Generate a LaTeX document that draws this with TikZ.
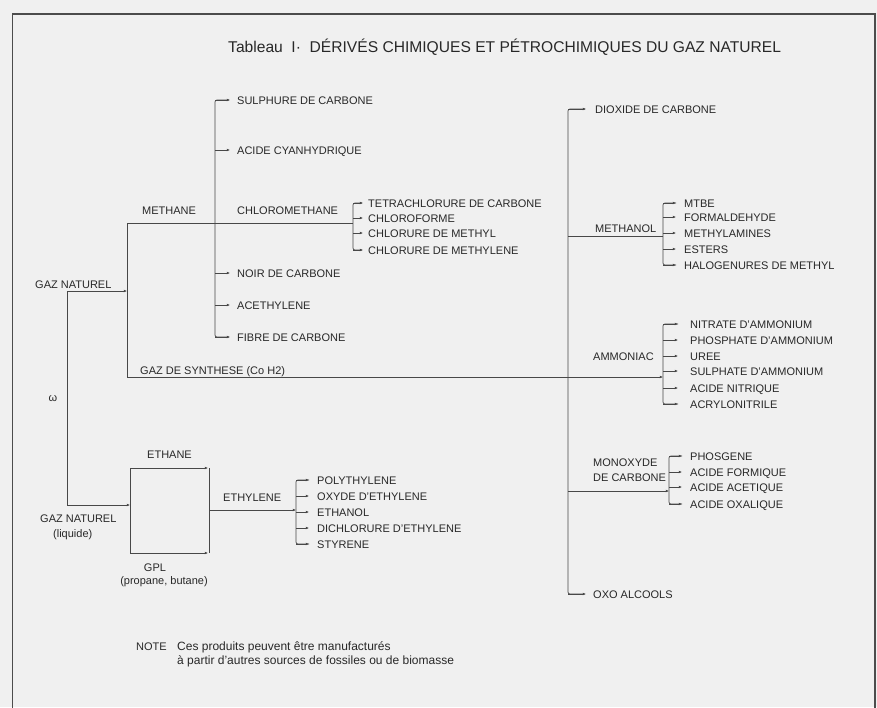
\documentclass[tikz,border=0pt]{standalone}
\usepackage{fontspec}
\setmainfont{Liberation Sans}
\usetikzlibrary{arrows.meta}
\definecolor{bgc}{RGB}{240,240,240}
\definecolor{ink}{RGB}{40,40,40}
\begin{document}
\begin{tikzpicture}[x=1pt,y=-1pt,
  lbl/.style={anchor=west,inner sep=0pt,text height=8pt,text depth=0pt,font=\fontsize{11}{12}\selectfont,text=ink},
  ctr/.style={lbl,anchor=center},
  ln/.style={draw=ink!85,line width=0.7pt},
  tk/.style={ln,-{Latex[length=3.2pt,width=2.8pt]}},
  notefont/.style={font=\fontsize{12}{13}\selectfont},
]
\useasboundingbox (0,0) rectangle (877,707);
\fill[bgc] (0,0) rectangle (877,707);
\begin{scope}
\clip (0,0) rectangle (877,707);
\draw[line width=1.6pt,draw=black!70] (12.5,14) rectangle (875,730);
\end{scope}

% title
\node[anchor=west,inner sep=0pt,font=\fontsize{15.6}{17}\selectfont,text=ink] (title) at (228,47)
  {Tableau\ \ I·\ \ DÉRIVÉS CHIMIQUES ET PÉTROCHIMIQUES DU GAZ NATUREL};

% ---------- left part ----------
\node[lbl] (gn) at (35,284) {GAZ NATUREL};
\node[lbl] (meth) at (142,210) {METHANE};
\node[lbl] (syn) at (140,370) {GAZ DE SYNTHESE (Co H2)};
\node[ctr] (omega) at (53,397) {ω};

\node[lbl] (sulf) at (237,100) {SULPHURE DE CARBONE};
\node[lbl] (cyan) at (237,150) {ACIDE CYANHYDRIQUE};
\node[lbl] (chlm) at (237,210) {CHLOROMETHANE};
\node[lbl] (noir) at (237,273) {NOIR DE CARBONE};
\node[lbl] (acet) at (237,305) {ACETHYLENE};
\node[lbl] (fibr) at (237,337) {FIBRE DE CARBONE};

\node[lbl] (tetra) at (368,203) {TETRACHLORURE DE CARBONE};
\node[lbl] (chlf)  at (368,218) {CHLOROFORME};
\node[lbl] (chme)  at (368,233) {CHLORURE DE METHYL};
\node[lbl] (chml)  at (368,250) {CHLORURE DE METHYLENE};

\coordinate (g1) at (67,291);
\coordinate (g2) at (127,291);
\coordinate (g3) at (67,505);
\coordinate (mj) at (127,223);
\coordinate (bm) at (215,223);
\coordinate (cb) at (353,223);
\coordinate (sj) at (127,377);
\coordinate (ab) at (663,377);

\draw[tk] (g1) -- (g2);
\draw[ln] (g1) -- (g3);
\draw[ln] (mj) -- (sj);
\draw[ln] (mj) -- (cb);
\draw[tk] (sj) -- (ab);

\draw[ln,rounded corners=2pt] ([xshift=-8pt]sulf.west) -- (sulf.west -| bm) -- (fibr.west -| bm) -- ([xshift=-8pt]fibr.west);
\foreach \n in {sulf,cyan,noir,acet,fibr}
  \draw[tk] (\n.west -| bm) -- ([xshift=-7pt]\n.west);

\draw[ln,rounded corners=2pt] ([xshift=-6pt]tetra.west) -- (tetra.west -| cb) -- (chml.west -| cb) -- ([xshift=-6pt]chml.west);
\foreach \n in {tetra,chlf,chme,chml}
  \draw[tk] (\n.west -| cb) -- ([xshift=-5pt]\n.west);

% ---------- lower left ----------
\node[lbl] (gnl) at (40,518) {GAZ NATUREL};
\node[lbl] (liq) at (53,533) {(liquide)};
\node[lbl] (ethane) at (147,454) {ETHANE};
\node[ctr] (gpl) at (155,567) {GPL};
\node[ctr] (propb) at (164,580) {(propane, butane)};
\node[lbl] (ethy) at (223,497) {ETHYLENE};

\coordinate (bl) at (130,505);
\coordinate (btl) at (130,468);
\coordinate (btr) at (208,468);
\coordinate (bbl) at (130,553);
\coordinate (bbr) at (208,553);
\coordinate (rt) at (209,468);
\coordinate (rb) at (209,553);
\coordinate (er) at (209,510);
\coordinate (eb) at (296,510);

\draw[tk] (g3) -- (bl);
\draw[tk] (bl) -- (btl) -- (btr);
\draw[tk] (bl) -- (bbl) -- (bbr);
\draw[ln] (rt) -- (rb);
\draw[tk] (er) -- (eb);

\node[lbl] (poly) at (317,480) {POLYTHYLENE};
\node[lbl] (oxyd) at (317,496) {OXYDE D'ETHYLENE};
\node[lbl] (ethl) at (317,512) {ETHANOL};
\node[lbl] (dich) at (317,528) {DICHLORURE D'ETHYLENE};
\node[lbl] (styr) at (317,544) {STYRENE};

\draw[ln,rounded corners=2pt] ([xshift=-8pt]poly.west) -- (poly.west -| eb) -- (styr.west -| eb) -- ([xshift=-8pt]styr.west);
\foreach \n in {poly,oxyd,ethl,dich,styr}
  \draw[tk] (\n.west -| eb) -- ([xshift=-8pt]\n.west);

% ---------- right part ----------
\node[lbl] (diox) at (595,109) {DIOXIDE DE CARBONE};
\node[lbl] (oxo) at (593,594) {OXO ALCOOLS};
\coordinate (tj) at (568,377);
\draw[ln,rounded corners=2pt] ([xshift=-10pt]diox.west) -- (diox.west -| tj) -- (oxo.west -| tj) -- ([xshift=-10pt]oxo.west);
\draw[tk] (diox.west -| tj) -- ([xshift=-9pt]diox.west);
\draw[tk] (oxo.west -| tj) -- ([xshift=-7pt]oxo.west);

% methanol
\node[lbl] (mol) at (595,228) {METHANOL};
\coordinate (mo1) at (568,236);
\coordinate (mob) at (663,236);
\draw[ln] (mo1) -- (mob);
\node[lbl] (mtbe) at (684,203) {MTBE};
\node[lbl] (form) at (684,217) {FORMALDEHYDE};
\node[lbl] (mam)  at (684,233) {METHYLAMINES};
\node[lbl] (est)  at (684,249) {ESTERS};
\node[lbl] (halo) at (684,265) {HALOGENURES DE METHYL};
\draw[ln,rounded corners=2pt] ([xshift=-8pt]mtbe.west) -- (mtbe.west -| mob) -- (halo.west -| mob) -- ([xshift=-8pt]halo.west);
\foreach \n in {mtbe,form,mam,est,halo}
  \draw[tk] (\n.west -| mob) -- ([xshift=-8pt]\n.west);

% ammoniac
\node[lbl] (amm) at (593,356) {AMMONIAC};
\node[lbl] (nitr) at (690,324) {NITRATE D'AMMONIUM};
\node[lbl] (phos) at (690,340) {PHOSPHATE D'AMMONIUM};
\node[lbl] (uree) at (690,356) {UREE};
\node[lbl] (sulp) at (690,371) {SULPHATE D'AMMONIUM};
\node[lbl] (anit) at (690,388) {ACIDE NITRIQUE};
\node[lbl] (acry) at (690,404) {ACRYLONITRILE};
\draw[ln,rounded corners=2pt] ([xshift=-12pt]nitr.west) -- (nitr.west -| ab) -- (acry.west -| ab) -- ([xshift=-12pt]acry.west);
\foreach \n in {nitr,phos,uree,sulp,anit,acry}
  \draw[tk] (\n.west -| ab) -- ([xshift=-12pt]\n.west);

% monoxyde
\node[lbl] (mono1) at (593,462) {MONOXYDE};
\node[lbl] (mono2) at (593,477) {DE CARBONE};
\coordinate (co1) at (568,491);
\coordinate (cob) at (669,491);
\draw[tk] (co1) -- (cob);
\node[lbl] (phsg) at (690,456) {PHOSGENE};
\node[lbl] (afor) at (690,472) {ACIDE FORMIQUE};
\node[lbl] (aace) at (690,487) {ACIDE ACETIQUE};
\node[lbl] (aoxa) at (690,504) {ACIDE OXALIQUE};
\draw[ln,rounded corners=2pt] ([xshift=-8pt]phsg.west) -- (phsg.west -| cob) -- (aoxa.west -| cob) -- ([xshift=-8pt]aoxa.west);
\foreach \n in {phsg,afor,aace,aoxa}
  \draw[tk] (\n.west -| cob) -- ([xshift=-8pt]\n.west);

% note
\node[lbl] (note) at (136,646) {NOTE};
\node[lbl,notefont] (n1) at (177,646) {Ces produits peuvent être manufacturés};
\node[lbl,notefont] (n2) at (177,660) {à partir d'autres sources de fossiles ou de biomasse};
\end{tikzpicture}
\end{document}
